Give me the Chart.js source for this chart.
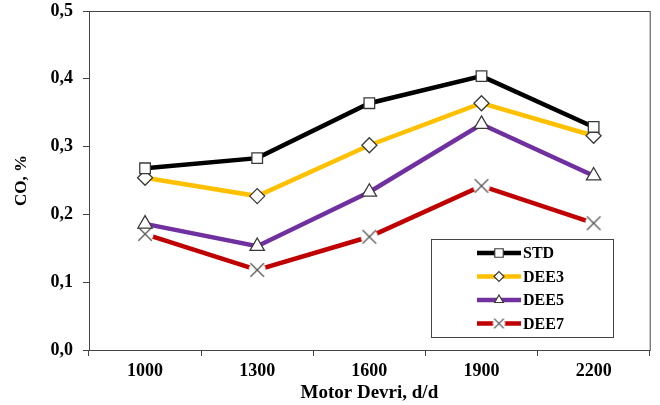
<!DOCTYPE html>
<html>
<head>
<meta charset="utf-8">
<script src="https://cdn.jsdelivr.net/npm/chart.js@4.4.1/dist/chart.umd.min.js"></script>
<style>
  html, body { margin: 0; padding: 0; background: #fff; }
  #wrap { width: 660px; height: 405px; }
</style>
</head>
<body>
<div id="wrap"><canvas id="chart" width="660" height="405"></canvas></div>
<script>
// motor speed (rpm) categories
const speeds = ['1000', '1300', '1600', '1900', '2200']
const yTicks = [0, 0.1, 0.2, 0.3, 0.4, 0.5]

// CO, %
const std  = [0.268, 0.283, 0.364, 0.404, 0.329]
const dee3 = [0.254, 0.227, 0.302, 0.364, 0.316]
const dee5 = [0.186, 0.153, 0.233, 0.333, 0.257]
const dee7 = [0.171, 0.118, 0.167, 0.242, 0.187]

const names = ['STD', 'DEE3', 'DEE5', 'DEE7']
const colors = ['#000000', '#FFC000', '#7030A0', '#C00000']
const markers = ['rect', 'rectRot', 'triangle', 'cross']
const markerSize = [7.5, 7.5, 8.3, 9]

const serif = '"Liberation Serif", "Times New Roman", serif'

// the X marker has a white halo so the red line stops short of it
function crossImage(r) {
  const cv = document.createElement('canvas')
  const s = Math.ceil(r * 2 + 4)
  cv.width = s
  cv.height = s
  const c = cv.getContext('2d')
  const m = s / 2
  c.fillStyle = '#fff'
  c.beginPath()
  c.arc(m, m, r * 0.95, 0, Math.PI * 2)
  c.fill()
  c.strokeStyle = '#555'
  c.lineWidth = 1.3
  const d = r * 0.75
  c.beginPath()
  c.moveTo(m - d, m - d); c.lineTo(m + d, m + d)
  c.moveTo(m + d, m - d); c.lineTo(m - d, m + d)
  c.stroke()
  return cv
}
const xMark = crossImage(markerSize[3])
const xMarkSmall = crossImage(6.5)

function makeSet(i, data) {
  return {
    label: names[i],
    data: data,
    borderColor: colors[i],
    backgroundColor: '#fff',
    borderWidth: 4.5,
    pointStyle: markers[i] == 'cross' ? xMark : markers[i],
    pointRadius: markerSize[i],
    pointBorderColor: '#3a3a3a',
    pointBorderWidth: 1.3,
    pointBackgroundColor: '#fff',
    tension: 0
  }
}

// frame round the plot area
const frame = {
  id: 'frame',
  afterDraw(chart) {
    const a = chart.chartArea
    const c = chart.ctx
    c.save()
    c.strokeStyle = '#444'
    c.lineWidth = 1
    c.strokeRect(a.left + 0.5, a.top + 0.5, a.right - a.left, a.bottom - a.top)
    c.restore()
  }
}

// legend box drawn inside the plot, lower right
const boxLegend = {
  id: 'boxLegend',
  afterDraw(chart) {
    const c = chart.ctx
    const x0 = 431, y0 = 239, w = 182, h = 98
    c.save()
    c.fillStyle = '#fff'
    c.fillRect(x0, y0, w, h)
    c.strokeStyle = '#444'
    c.lineWidth = 1
    c.strokeRect(x0 + 0.5, y0 + 0.5, w, h)
    chart.data.datasets.forEach((ds, i) => {
      const y = y0 + 14 + i * 23.5
      c.strokeStyle = ds.borderColor
      c.lineWidth = 4.5
      c.beginPath()
      c.moveTo(477, y)
      c.lineTo(521, y)
      c.stroke()
      if (typeof ds.pointStyle == 'string') {
        c.fillStyle = '#fff'
        c.strokeStyle = '#3a3a3a'
        c.lineWidth = 1.2
        Chart.helpers.drawPoint(c, {
          pointStyle: ds.pointStyle,
          radius: ds.pointStyle == 'rect' ? 6 : 5,
          rotation: 0,
          borderWidth: 1.2
        }, 499, y)
      } else {
        c.drawImage(xMarkSmall, 499 - xMarkSmall.width / 2, y - xMarkSmall.height / 2)
      }
      c.fillStyle = '#000'
      c.font = 'bold 16px ' + serif
      c.textBaseline = 'middle'
      c.textAlign = 'left'
      c.fillText(ds.label, 523, y + 1)
    })
    c.restore()
  }
}

new Chart('chart', {
  type: 'line',
  data: {
    labels: speeds,
    datasets: [makeSet(0, std), makeSet(1, dee3), makeSet(2, dee5), makeSet(3, dee7)]
  },
  options: {
    responsive: false,
    animation: false,
    layout: { padding: { top: 11, right: 8, left: 0, bottom: 0 } },
    plugins: {
      legend: { display: false },
      tooltip: { enabled: false }
    },
    scales: {
      x: {
        offset: true,
        grid: {
          offset: true,
          drawOnChartArea: false,
          tickLength: 6,
          color: '#444'
        },
        border: { color: '#444' },
        ticks: {
          color: '#000',
          font: { family: serif, size: 18, weight: 'bold' },
          padding: 5
        },
        title: {
          display: true,
          text: 'Motor Devri, d/d',
          color: '#000',
          font: { family: serif, size: 19, weight: 'bold' },
          padding: { top: 0, bottom: 1 }
        },
        afterFit(s) { s.height = 55; s.paddingLeft = 0; s.paddingRight = 0 }
      },
      y: {
        min: 0,
        max: 0.5,
        afterBuildTicks(s) { s.ticks = yTicks.map(v => ({ value: v })) },
        grid: {
          drawOnChartArea: false,
          tickLength: 6,
          color: '#444'
        },
        border: { color: '#444' },
        ticks: {
          color: '#000',
          font: { family: serif, size: 18, weight: 'bold' },
          padding: 10,
          callback: v => v.toFixed(1).replace('.', ',')
        },
        title: {
          display: true,
          text: 'CO, %',
          color: '#000',
          font: { family: serif, size: 17, weight: 'bold' },
          padding: { top: 11, bottom: 0 }
        },
        afterFit(s) { s.width = 89; s.paddingTop = 0; s.paddingBottom = 0 }
      }
    }
  },
  plugins: [frame, boxLegend]
})
</script>
</body>
</html>
